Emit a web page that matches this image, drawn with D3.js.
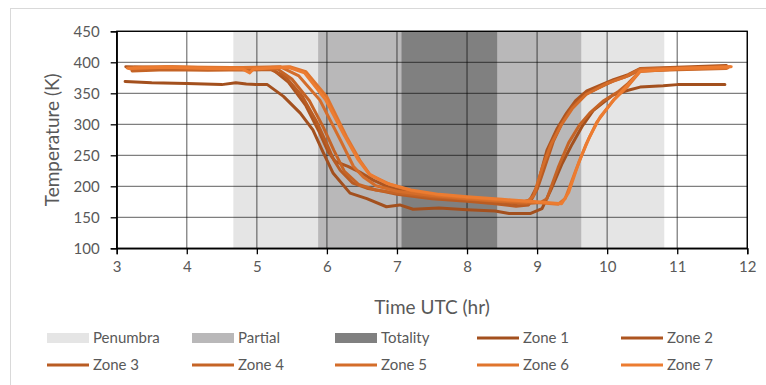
<!DOCTYPE html>
<html>
<head>
<meta charset="utf-8">
<script src="https://cdn.jsdelivr.net/npm/d3@7"></script>
<style>
  html, body { margin: 0; padding: 0; background: #fff; }
  svg { display: block; font-family: Lato, "Open Sans", sans-serif; }
</style>
</head>
<body>
<svg id="chart" width="766" height="385"></svg>
<script>
// Eclipse phases (hours UTC)
const phaseNames = ["Penumbra", "Partial", "Totality"];
const phaseStart = [4.665, 5.875, 7.065];
const phaseEnd = [10.815, 9.63, 8.43];
const phaseColors = ["#e5e5e5", "#b9b8b9", "#808080"];

// Surface temperature by zone: [time UTC (hr), temperature (K)]
const zoneNames = ["Zone 1", "Zone 2", "Zone 3", "Zone 4", "Zone 5", "Zone 6", "Zone 7"];
const zoneColors = ["#a3501e", "#ad5520", "#b95c23", "#c56426", "#d46d2a", "#e0752d", "#ec7c31"];

const zone1 = [[3.12,369],[3.5,367],[4.0,366],[4.5,364],[4.7,367],[4.85,365],[5.0,364],[5.15,364],[5.38,345],[5.62,318],[5.8,291],[5.95,254],[6.09,221],[6.33,189],[6.57,180],[6.85,167],[7.04,170],[7.23,163],[7.6,165],[8.0,162],[8.4,160],[8.6,156],[8.9,156],[9.07,164],[9.2,195],[9.35,235],[9.5,268],[9.65,298],[9.8,322],[10.08,347],[10.3,355],[10.47,360],[10.8,362],[11.0,364],[11.68,364]];
const zone2 = [[3.13,393],[3.5,392],[4.0,391],[4.5,390],[5.0,390],[5.22,389],[5.45,368],[5.7,330],[5.88,290],[6.02,255],[6.12,240],[6.3,232],[6.47,223],[6.66,210],[6.9,198],[7.2,190],[7.6,184],[8.0,180],[8.4,176],[8.7,172],[8.9,178],[9.0,200],[9.14,258],[9.28,292],[9.42,318],[9.55,338],[9.71,354],[10.09,372],[10.3,380],[10.47,390],[11.0,392],[11.7,395]];
const zone3 = [[3.2,389],[3.6,390],[4.2,389],[4.8,388],[5.2,388],[5.4,378],[5.65,345],[5.85,305],[6.0,268],[6.1,242],[6.19,226],[6.37,205],[6.57,197],[6.8,192],[7.0,187],[7.5,180],[8.0,176],[8.4,172],[8.7,168],[8.88,170],[9.0,195],[9.1,228],[9.23,272],[9.37,305],[9.5,328],[9.71,350],[10.09,370],[10.3,378],[10.47,388],[11.0,390],[11.7,392]];
const zone4 = [[3.22,386],[3.7,388],[4.3,387],[4.9,388],[5.3,389],[5.5,373],[5.75,338],[5.95,295],[6.1,258],[6.25,224],[6.45,203],[6.7,194],[7.0,189],[7.5,183],[8.0,179],[8.5,175],[8.8,172],[9.05,174],[9.14,180],[9.3,230],[9.45,270],[9.6,298],[9.75,318],[9.95,338],[10.15,352],[10.3,366],[10.47,386],[11.0,388],[11.7,390]];
const zone5 = [[3.25,392],[3.8,393],[4.4,391],[5.0,392],[5.33,393],[5.6,378],[5.9,339],[6.19,275],[6.38,232],[6.52,215],[6.7,201],[7.0,192],[7.5,185],[8.0,180],[8.5,176],[8.85,174],[8.95,185],[9.08,232],[9.2,268],[9.35,300],[9.5,325],[9.7,348],[10.0,366],[10.25,376],[10.47,389],[11.0,391],[11.75,393]];
const zone6 = [[3.15,391],[3.7,393],[4.3,392],[5.0,391],[5.47,393],[5.7,385],[6.0,344],[6.28,280],[6.47,242],[6.62,218],[6.9,203],[7.2,193],[7.6,186],[8.0,182],[8.5,178],[9.0,174],[9.3,171],[9.4,180],[9.55,225],[9.7,268],[9.85,303],[10.09,339],[10.3,362],[10.47,385],[11.0,389],[11.72,391]];
const zone7 = [[3.17,390],[3.7,392],[4.3,390],[4.8,389],[4.9,383],[4.95,389],[5.2,391],[5.45,392],[5.68,383],[5.98,340],[6.25,282],[6.44,244],[6.6,220],[6.85,205],[7.2,194],[7.6,187],[8.0,183],[8.5,179],[9.0,175],[9.35,172],[9.45,190],[9.6,240],[9.75,280],[9.9,312],[10.1,340],[10.3,364],[10.47,386],[11.0,390],[11.77,393]];
const zones = [zone1, zone2, zone3, zone4, zone5, zone6, zone7];

const xTicks = [3, 4, 5, 6, 7, 8, 9, 10, 11, 12];
const yTicks = [100, 150, 200, 250, 300, 350, 400, 450];

const svg = d3.select("#chart");
const plotLeft = 116.7, plotRight = 747.3, plotTop = 31.3, plotBottom = 248.3;
const x = d3.scaleLinear().domain([3, 12]).range([plotLeft, plotRight]);
const y = d3.scaleLinear().domain([100, 450]).range([plotBottom, plotTop]);
const textColor = "#595959";

// outer chart frame
svg.append("rect").attr("x", 10.5).attr("y", 8.5).attr("width", 900).attr("height", 500)
  .attr("fill", "none").attr("stroke", "#d9d9d9").attr("stroke-width", 1);

// phase bands, widest first
svg.append("g").selectAll("rect").data(phaseNames).join("rect")
  .attr("x", (d, i) => x(phaseStart[i]))
  .attr("width", (d, i) => x(phaseEnd[i]) - x(phaseStart[i]))
  .attr("y", y(450)).attr("height", y(100) - y(450))
  .attr("fill", (d, i) => phaseColors[i]);

// gridlines
const grid = svg.append("g").attr("stroke", "#000").attr("stroke-opacity", 0.5).attr("stroke-width", 1.3);
grid.selectAll(".gy").data(yTicks).join("line")
  .attr("x1", plotLeft).attr("x2", plotRight).attr("y1", d => y(d)).attr("y2", d => y(d));
grid.selectAll(".gx").data(xTicks).join("line")
  .attr("y1", plotTop).attr("y2", plotBottom).attr("x1", d => x(d)).attr("x2", d => x(d));

// plot border
svg.append("rect").attr("x", plotLeft).attr("y", plotTop)
  .attr("width", plotRight - plotLeft).attr("height", plotBottom - plotTop)
  .attr("fill", "none").attr("stroke", "#000").attr("stroke-width", 1.3);

// axes
const xAxis = svg.append("g").attr("transform", `translate(0,${plotBottom})`)
  .call(d3.axisBottom(x).tickValues(xTicks).tickSize(6).tickPadding(7).tickFormat(d3.format("d")));
const yAxis = svg.append("g").attr("transform", `translate(${plotLeft},0)`)
  .call(d3.axisLeft(y).tickValues(yTicks).tickSize(6).tickPadding(11).tickFormat(d3.format("d")));
[xAxis, yAxis].forEach(a => {
  a.select(".domain").attr("stroke", "#000").attr("stroke-width", 1.3);
  a.selectAll(".tick line").attr("stroke", "#000").attr("stroke-width", 1.3);
  a.selectAll(".tick text").attr("fill", textColor).attr("font-size", 15).attr("font-family", "Lato, sans-serif");
});

// temperature curves
const line = d3.line().x(d => x(d[0])).y(d => y(d[1]));
svg.append("g").selectAll("path").data(zones).join("path")
  .attr("d", line)
  .attr("fill", "none")
  .attr("stroke", (d, i) => zoneColors[i])
  .attr("stroke-width", 3)
  .attr("stroke-linejoin", "round")
  .attr("stroke-linecap", "round");

// axis titles
svg.append("text").attr("x", (plotLeft + plotRight) / 2).attr("y", 307).attr("dy", "0.35em")
  .attr("text-anchor", "middle").attr("fill", textColor).attr("font-size", 19)
  .text("Time UTC (hr)");
svg.append("text").attr("transform", `translate(52,${(plotTop + plotBottom) / 2}) rotate(-90)`)
  .attr("dy", "0.35em").attr("text-anchor", "middle").attr("fill", textColor).attr("font-size", 19)
  .text("Temperature (K)");

// legend
const colX = [47, 192, 335, 477, 621];
const rowY = [338, 365];
const items = phaseNames.map((n, i) => ({ name: n, type: "band", color: phaseColors[i] }))
  .concat(zoneNames.map((n, i) => ({ name: n, type: "line", color: zoneColors[i] })));
const leg = svg.append("g").selectAll("g").data(items).join("g")
  .attr("transform", (d, i) => `translate(${colX[i % 5]},${rowY[Math.floor(i / 5)]})`);
leg.filter(d => d.type === "band").append("rect")
  .attr("x", 0).attr("y", -5).attr("width", 42).attr("height", 10).attr("fill", d => d.color);
leg.filter(d => d.type === "line").append("line")
  .attr("x1", 0).attr("x2", 42).attr("y1", 0).attr("y2", 0)
  .attr("stroke", d => d.color).attr("stroke-width", 3);
leg.append("text").attr("x", 46).attr("dy", "0.35em")
  .attr("fill", textColor).attr("font-size", 15).text(d => d.name);
</script>
</body>
</html>
